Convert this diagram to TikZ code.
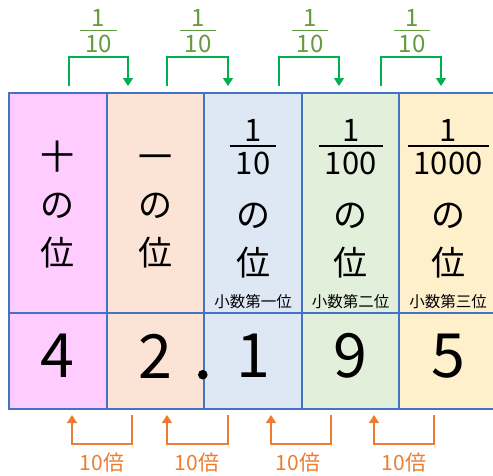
\documentclass[tikz,border=0pt]{standalone}
\usepackage{fontspec}
\setmainfont{Noto Sans CJK JP}
\usetikzlibrary{arrows.meta, positioning}

\definecolor{placeborder}{HTML}{4472C4}
\definecolor{tenscol}{HTML}{FFCCFF}
\definecolor{onescol}{HTML}{FBE3D6}
\definecolor{tenthscol}{HTML}{DEE8F5}
\definecolor{hundredthscol}{HTML}{E2EFDA}
\definecolor{thousandthscol}{HTML}{FFF0CC}
\definecolor{tenthgreen}{HTML}{00B050}
\definecolor{tenthtext}{RGB}{100,155,60}
\definecolor{timesorange}{HTML}{ED7D31}

\begin{document}
\begin{tikzpicture}[
      x=1pt, y=-1pt,
      cell/.style={
        draw=placeborder,
        line width=2pt,
        anchor=north west,
        minimum width=97.6pt,
        inner sep=0pt
      },
      toprow/.style={cell, minimum height=220pt},
      digitrow/.style={cell, minimum height=96pt},
      bigdigit/.style={font=\fontsize{61}{61}\selectfont, inner sep=0pt},
      placename/.style={font=\fontsize{34}{48}\selectfont, align=center, inner sep=0pt, anchor=base},
      fracnum/.style={font=\fontsize{31}{31}\selectfont, inner sep=0pt},
      fracden/.style={font=\fontsize{31}{31}\selectfont, inner xsep=6pt, inner ysep=5pt},
      subname/.style={font=\fontsize{15.5}{15.5}\selectfont, inner sep=0pt},
      tenthnum/.style={text=tenthtext, font=\fontsize{24}{24}\selectfont, inner sep=0pt},
      tenthden/.style={text=tenthtext, font=\fontsize{24}{24}\selectfont, inner xsep=4.5pt, inner ysep=4pt},
      times/.style={text=timesorange, font=\fontsize{21}{21}\selectfont, inner sep=0pt},
      garrow/.style={draw=tenthgreen, line width=1.5pt, -{Triangle[length=8pt, width=10pt]}},
      oarrow/.style={draw=timesorange, line width=1.5pt, -{Triangle[length=8pt, width=10pt]}}
    ]
    \useasboundingbox (0,0) rectangle (493,475);

    % columns
    \node[toprow, fill=tenscol] (ten) at (8,92) {};
    \node[toprow, fill=onescol] (one) at (105.6,92) {};
    \node[toprow, fill=tenthscol] (tenths) at (203.2,92) {};
    \node[toprow, fill=hundredthscol] (hundredths) at (300.8,92) {};
    \node[toprow, fill=thousandthscol] (thousandths) at (398.4,92) {};
    \node[digitrow, fill=tenscol] (tend) at (8,312) {};
    \node[digitrow, fill=onescol] (oned) at (105.6,312) {};
    \node[digitrow, fill=tenthscol] (tenthsd) at (203.2,312) {};
    \node[digitrow, fill=hundredthscol] (hundredthsd) at (300.8,312) {};
    \node[digitrow, fill=thousandthscol] (thousandthsd) at (398.4,312) {};

    % place names (base = last line)
    \node[placename] (tenname) at ([yshift=-173pt]ten.north) {十\\の\\位};
    \node[placename] (onename) at ([yshift=-173pt]one.north) {一\\の\\位};

    \node[fracden] (tenthsden) at ([yshift=40pt]tenths.center) {10};
    \node[fracnum, above=5pt of tenthsden] (tenthsnum) {1};
    \draw[line width=2pt] (tenthsden.north west) -- (tenthsden.north east);
    \node[placename] (tenthsname) at ([yshift=-183pt]tenths.north) {の\\位};
    \node[subname, above=5pt of tenths.south] (tenthssub) {小数第一位};

    \node[fracden] (hundredthsden) at ([yshift=40pt]hundredths.center) {100};
    \node[fracnum, above=5pt of hundredthsden] (hundredthsnum) {1};
    \draw[line width=2pt] (hundredthsden.north west) -- (hundredthsden.north east);
    \node[placename] (hundredthsname) at ([yshift=-183pt]hundredths.north) {の\\位};
    \node[subname, above=5pt of hundredths.south] (hundredthssub) {小数第二位};

    \node[fracden] (thousandthsden) at ([yshift=40pt]thousandths.center) {1000};
    \node[fracnum, above=5pt of thousandthsden] (thousandthsnum) {1};
    \draw[line width=2pt] (thousandthsden.north west) -- (thousandthsden.north east);
    \node[placename] (thousandthsname) at ([yshift=-183pt]thousandths.north) {の\\位};
    \node[subname, above=5pt of thousandths.south] (thousandthssub) {小数第三位};

    % digits of 42.195
    \node[bigdigit] (d4) at ([yshift=5pt]tend.center) {4};
    \node[bigdigit] (d2) at ([yshift=5pt]oned.center) {2};
    \node[bigdigit] (d1) at ([yshift=5pt]tenthsd.center) {1};
    \node[bigdigit] (d9) at ([yshift=5pt]hundredthsd.center) {9};
    \node[bigdigit] (d5) at ([yshift=5pt]thousandthsd.center) {5};
    \fill (202.8,374.7) circle (4.8pt);

    % 1/10 arrows on top
    \node[tenthden] (g1den) at (98.5,43.5) {10};
    \node[tenthnum, above=4pt of g1den] (g1num) {1};
    \draw[tenthtext, line width=1.5pt] (g1den.north west) -- (g1den.north east);
    \node[tenthden] (g2den) at (198,43.5) {10};
    \node[tenthnum, above=4pt of g2den] (g2num) {1};
    \draw[tenthtext, line width=1.5pt] (g2den.north west) -- (g2den.north east);
    \node[tenthden] (g3den) at (310,43.5) {10};
    \node[tenthnum, above=4pt of g3den] (g3num) {1};
    \draw[tenthtext, line width=1.5pt] (g3den.north west) -- (g3den.north east);
    \node[tenthden] (g4den) at (412,43.5) {10};
    \node[tenthnum, above=4pt of g4den] (g4num) {1};
    \draw[tenthtext, line width=1.5pt] (g4den.north west) -- (g4den.north east);

    \coordinate (gfrom1) at (69,86);
    \coordinate (gto1) at (128,86);
    \coordinate (gfrom2) at (167,86);
    \coordinate (gto2) at (228,86);
    \coordinate (gfrom3) at (279,86);
    \coordinate (gto3) at (339,86);
    \coordinate (gfrom4) at (381,86);
    \coordinate (gto4) at (441,86);
    \draw[garrow] (gfrom1) -- ++(0,-29) -| (gto1);
    \draw[garrow] (gfrom2) -- ++(0,-29) -| (gto2);
    \draw[garrow] (gfrom3) -- ++(0,-29) -| (gto3);
    \draw[garrow] (gfrom4) -- ++(0,-29) -| (gto4);

    % 10x arrows below
    \coordinate (ofrom1) at (132,415);
    \coordinate (oto1) at (72,415);
    \coordinate (ofrom2) at (228,415);
    \coordinate (oto2) at (167,415);
    \coordinate (ofrom3) at (331,415);
    \coordinate (oto3) at (271,415);
    \coordinate (ofrom4) at (434,415);
    \coordinate (oto4) at (374,415);
    \draw[oarrow] (ofrom1) -- ++(0,29) -| (oto1);
    \draw[oarrow] (ofrom2) -- ++(0,29) -| (oto2);
    \draw[oarrow] (ofrom3) -- ++(0,29) -| (oto3);
    \draw[oarrow] (ofrom4) -- ++(0,29) -| (oto4);
    \node[times] (o1) at (102,463) {10倍};
    \node[times] (o2) at (197,463) {10倍};
    \node[times] (o3) at (298,463) {10倍};
    \node[times] (o4) at (404,463) {10倍};
  \end{tikzpicture}
\end{document}
